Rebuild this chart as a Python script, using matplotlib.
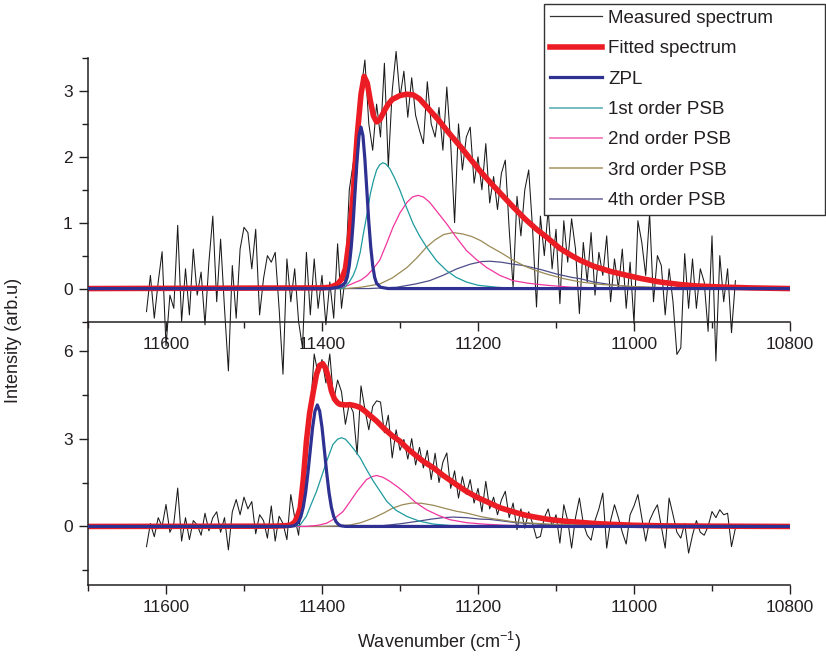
import numpy as np
import matplotlib
matplotlib.use("Agg")
import matplotlib.pyplot as plt
from matplotlib.ticker import MultipleLocator
from matplotlib.lines import Line2D

plt.rcParams['font.family'] = ['Liberation Sans', 'DejaVu Sans']
plt.rcParams['mathtext.fontset'] = 'custom'
plt.rcParams['mathtext.rm'] = 'Liberation Sans'

# ---------------- data ----------------
series_labels = ["Measured spectrum", "Fitted spectrum", "ZPL", "1st order PSB",
                 "2nd order PSB", "3rd order PSB", "4th order PSB"]

# measured spectra: wavenumber grid 11625 -> 10870, step 5 cm-1
measured_x = np.arange(11625, 10865, -5)
measured_top = [
    -0.35, 0.2, -0.45, 0.1, 0.56, -0.87, -0.1, -0.3, 0.96, -0.5,
    0.3, -0.4, 0.6, -0.1, 0.25, -0.55, 0.4, 1.1, -0.2, 0.75,
    -0.3, -1.25, 0.35, -0.45, 0.6, 0.93, 0.85, 0.3, 0.9, -0.4,
    0.15, 0.5, 0.4, 0.55, -0.3, -1.3, 0.45, -0.2, 0.3, -0.5,
    -0.9, 0.55, -0.4, 0.45, -0.3, 0.2, -0.55, 0.1, -0.45, 0.68,
    -0.3, 0.2, 1.5, 1.9, 2.2, 3.0, 3.47, 2.5, 2.1, 2.8,
    2.3, 3.42, 1.85, 3.0, 3.6, 2.9, 3.3, 2.6, 3.2, 2.63,
    2.4, 2.2, 3.14, 2.5, 2.3, 2.75, 2.1, 3.06, 2.2, 1.0,
    2.5, 1.8, 2.3, 2.45, 1.6, 2.0, 1.5, 2.2, 1.3, 1.7,
    1.2, 1.75, 1.95, 0.9, 0.02, 1.4, 0.8, 1.5, 1.8, 0.9,
    -0.28, 1.1, 0.5, 1.2, 0.3, 0.9, -0.23, 1.03, 0.4, 1.06,
    0.6, -0.38, 0.7, 0.1, 0.85, -0.1, 0.55, 0.2, 0.8, -0.2,
    0.45, 0.0, 0.6, -0.3, 0.4, -0.53, 1.03, 0.7, 0.2, 1.14,
    -0.2, 0.5, 0.35, -0.4, 0.3, -0.2, -1.0, -0.9, 0.53, -0.3,
    0.45, -0.3, 0.3, 0.1, -0.65, 0.8, -1.1, 0.5, -0.2, 0.3,
    -0.67, 0.12,
]
measured_bottom = [
    -0.69, 0.1, -0.35, 0.3, 0.0, 0.75, -0.2, 0.1, 1.31, -0.5,
    0.3, -0.45, 0.2, 0.05, -0.3, 0.45, -0.15, 0.3, 0.5, -0.2,
    0.3, -0.8, 0.5, 0.92, 0.4, 1.0, 0.6, 0.85, -0.25, 0.4,
    0.2, -0.4, 0.7, -0.5, 0.35, 0.1, -0.45, 1.09, 0.3, -0.3,
    1.3, 2.4, 3.9, 5.89, 5.2, 5.7, 4.9, 5.89, 4.3, 5.0,
    4.6, 3.49, 4.2, 3.9, 2.46, 4.8, 4.0, 3.3, 4.1, 4.29,
    4.25, 3.2, 3.8, 2.34, 3.3, 2.6, 2.97, 2.3, 3.0, 2.1,
    2.7, 2.0, 2.6, 1.6, 2.5, 1.5, 2.2, 2.51, 1.3, 1.9,
    0.97, 1.7, 1.1, 1.6, 0.8, 1.3, 0.5, 1.54, 0.6, 1.0,
    0.4, 0.9, 1.2, 0.3, 0.8, -0.11, 0.6, -0.06, 0.5, 0.1,
    -0.4, -0.34, 0.3, 0.6, 0.0, 0.4, -0.57, 0.74, 0.2, -0.74,
    0.3, 0.97, 0.1, -0.3, -0.47, 0.2, 0.6, 1.14, -0.74, 0.2,
    0.74, 0.3, -0.2, -0.6, 0.4, 0.7, 1.09, 0.3, -0.5, 0.2,
    0.5, 0.74, 0.0, -0.74, 0.97, 0.4, -0.2, -0.4, 0.1, -0.91,
    -0.3, 0.2, -0.2, -0.3, 0.0, 0.51, 0.3, 0.57, 0.4, 0.45,
    -0.69, -0.06,
]

# fitted curves (wavenumber, intensity)
fit_top = [(11700, 0.0), (11400, 0.01), (11390, 0.02), (11385, 0.04), (11380, 0.07),
           (11375, 0.14), (11370, 0.3), (11365, 0.75), (11360, 1.45), (11355, 2.3),
           (11350, 2.95), (11346, 3.22), (11342, 3.12), (11338, 2.85), (11334, 2.62),
           (11330, 2.53), (11326, 2.56), (11320, 2.7), (11315, 2.8), (11310, 2.87),
           (11300, 2.93), (11292, 2.95), (11283, 2.94), (11275, 2.88), (11262, 2.71),
           (11250, 2.55), (11240, 2.40), (11230, 2.26), (11220, 2.12), (11210, 1.97),
           (11197, 1.78), (11185, 1.62), (11170, 1.43), (11155, 1.24), (11140, 1.06),
           (11125, 0.90), (11112, 0.78), (11095, 0.61), (11080, 0.50), (11069, 0.43),
           (11052, 0.34), (11030, 0.26), (11009, 0.20), (10990, 0.15), (10967, 0.10),
           (10940, 0.06), (10920, 0.04), (10900, 0.03), (10880, 0.02), (10850, 0.01),
           (10800, 0.0)]
zpl_top = [(11700, 0), (11390, 0.0), (11385, 0.01), (11380, 0.02), (11375, 0.04),
           (11370, 0.09), (11367.5, 0.18), (11365, 0.35), (11362.5, 0.63), (11360, 1.01),
           (11357.5, 1.49), (11355, 1.96), (11352.5, 2.32), (11350, 2.45), (11347.5, 2.32),
           (11345, 1.96), (11342.5, 1.49), (11340, 1.01), (11337.5, 0.63), (11335, 0.35),
           (11332.5, 0.17), (11330, 0.08), (11325, 0.02), (11320, 0.01), (11315, 0.0),
           (10800, 0)]
psb1_top = [(11700, 0), (11375, 0.0), (11371, 0.02), (11365, 0.1), (11360, 0.2),
            (11356, 0.32), (11351, 0.55), (11347, 0.83), (11342, 1.15), (11338, 1.44),
            (11334, 1.64), (11330, 1.80), (11326, 1.88), (11322, 1.91), (11318, 1.89),
            (11313, 1.82), (11307, 1.68), (11300, 1.49), (11292, 1.24), (11283, 0.98),
            (11275, 0.8), (11266, 0.63), (11253, 0.42), (11240, 0.27), (11228, 0.17),
            (11215, 0.10), (11200, 0.05), (11176, 0.02), (11150, 0.0), (10800, 0)]
psb2_top = [(11700, 0), (11380, 0.0), (11370, 0.03), (11360, 0.08), (11350, 0.13),
            (11343, 0.19), (11335, 0.29), (11326, 0.43), (11318, 0.66), (11309, 0.93),
            (11300, 1.15), (11291, 1.31), (11284, 1.39), (11277, 1.415), (11270, 1.39),
            (11262, 1.31), (11252, 1.16), (11240, 0.98), (11228, 0.78), (11215, 0.58),
            (11202, 0.44), (11189, 0.32), (11172, 0.2), (11155, 0.12), (11135, 0.08),
            (11112, 0.05), (11080, 0.02), (11040, 0.01), (11000, 0.0), (10800, 0)]
psb3_top = [(11700, 0), (11370, 0.0), (11350, 0.02), (11326, 0.07), (11310, 0.16),
            (11291, 0.32), (11278, 0.47), (11266, 0.63), (11255, 0.74), (11244, 0.82),
            (11232, 0.85), (11220, 0.83), (11208, 0.79), (11197, 0.73), (11185, 0.64),
            (11170, 0.54), (11155, 0.43), (11140, 0.34), (11125, 0.27), (11112, 0.22),
            (11090, 0.15), (11069, 0.10), (11040, 0.06), (11000, 0.03), (10950, 0.01),
            (10900, 0.0), (10800, 0)]
psb4_top = [(11700, 0), (11340, 0.0), (11304, 0.02), (11280, 0.07), (11262, 0.12),
            (11245, 0.2), (11227, 0.30), (11210, 0.37), (11195, 0.41), (11185, 0.415),
            (11170, 0.40), (11155, 0.37), (11142, 0.35), (11120, 0.29), (11099, 0.22),
            (11080, 0.17), (11069, 0.15), (11052, 0.1), (11030, 0.06), (11009, 0.03),
            (10980, 0.015), (10950, 0.005), (10900, 0.0), (10800, 0)]

fit_bottom = [(11700, 0.0), (11460, 0.01), (11445, 0.03), (11440, 0.05), (11435, 0.15),
              (11431, 0.38), (11428, 0.63), (11424, 1.6), (11420, 2.9), (11416, 3.85),
              (11411, 4.63), (11407, 5.2), (11403, 5.5), (11399, 5.56), (11395, 5.38),
              (11391, 5.0), (11388, 4.63), (11384, 4.35), (11380, 4.22), (11377, 4.17),
              (11370, 4.15), (11364, 4.16), (11357, 4.12), (11351, 4.06), (11345, 3.94),
              (11338, 3.78), (11330, 3.6), (11320, 3.33), (11310, 3.1), (11300, 2.91),
              (11290, 2.65), (11280, 2.43), (11270, 2.22), (11257, 2.0), (11245, 1.75),
              (11230, 1.47), (11215, 1.2), (11200, 0.98), (11185, 0.8), (11172, 0.64),
              (11155, 0.5), (11140, 0.39), (11129, 0.33), (11112, 0.25), (11100, 0.21),
              (11085, 0.17), (11069, 0.14), (11050, 0.1), (11027, 0.07), (11000, 0.04),
              (10960, 0.02), (10900, 0.01), (10800, 0.0)]
zpl_bottom = [(11700, 0), (11445, 0), (11441, 0.004), (11436, 0.025), (11433, 0.07),
              (11430, 0.16), (11427, 0.34), (11424, 0.66), (11421, 1.16), (11418, 1.84),
              (11415, 2.62), (11412, 3.39), (11409, 3.94), (11406, 4.15), (11403, 3.94),
              (11400, 3.39), (11397, 2.62), (11394, 1.84), (11391, 1.16), (11388, 0.66),
              (11385, 0.34), (11382, 0.16), (11379, 0.07), (11376, 0.025), (11371, 0.004),
              (11367, 0), (10800, 0)]
psb1_bottom = [(11700, 0), (11435, 0.0), (11428, 0.05), (11420, 0.35), (11414, 0.75),
               (11407, 1.2), (11400, 1.75), (11394, 2.23), (11386, 2.8), (11380, 2.98),
               (11375, 3.03), (11370, 2.98), (11364, 2.8), (11358, 2.6), (11351, 2.34),
               (11343, 1.95), (11334, 1.54), (11325, 1.18), (11317, 0.86), (11305, 0.55),
               (11291, 0.34), (11275, 0.18), (11257, 0.08), (11235, 0.03), (11210, 0.01),
               (11180, 0.0), (10800, 0)]
psb2_bottom = [(11700, 0), (11420, 0.0), (11405, 0.04), (11394, 0.11), (11385, 0.25),
               (11373, 0.51), (11364, 0.85), (11355, 1.2), (11343, 1.6), (11336, 1.7),
               (11330, 1.74), (11322, 1.68), (11313, 1.54), (11302, 1.33), (11291, 1.09),
               (11280, 0.82), (11266, 0.57), (11250, 0.37), (11236, 0.23), (11215, 0.13),
               (11193, 0.08), (11165, 0.04), (11130, 0.02), (11080, 0.0), (10800, 0)]
psb3_bottom = [(11700, 0), (11400, 0.0), (11380, 0.02), (11364, 0.05), (11350, 0.13),
               (11334, 0.29), (11320, 0.47), (11309, 0.63), (11297, 0.74), (11285, 0.8),
               (11272, 0.79), (11257, 0.72), (11240, 0.6), (11228, 0.52), (11215, 0.46),
               (11197, 0.34), (11185, 0.28), (11172, 0.23), (11155, 0.16), (11129, 0.11),
               (11100, 0.07), (11070, 0.04), (11030, 0.02), (10980, 0.01), (10930, 0.0),
               (10800, 0)]
psb4_bottom = [(11700, 0), (11360, 0.0), (11321, 0.03), (11300, 0.09), (11279, 0.17),
               (11260, 0.25), (11245, 0.3), (11232, 0.32), (11215, 0.3), (11197, 0.25),
               (11185, 0.24), (11172, 0.2), (11155, 0.14), (11140, 0.11), (11129, 0.09),
               (11112, 0.06), (11090, 0.04), (11060, 0.02), (11020, 0.01), (10980, 0.0),
               (10800, 0)]

x_ticks = [11600, 11400, 11200, 11000, 10800]
y_ticks_top = [0, 1, 2, 3]
y_ticks_bottom = [0, 3, 6]

# ---------------- style ----------------
C_MEAS = '#1a1a1a'
C_FIT = '#ec1c24'
C_ZPL = '#2e3192'
C_P1 = '#1f9a9e'
C_P2 = '#f2359f'
C_P3 = '#9a8a55'
C_P4 = '#4d4d8a'
TXT = '#231f20'

W, H = 826, 656
fig = plt.figure(figsize=(W / 100, H / 100), dpi=100)
left = 88 / W
width = 702 / W
ax_top = fig.add_axes([left, 1 - 321.5 / H, width, 263.5 / H])
ax_bot = fig.add_axes([left, 1 - 585 / H, width, 263.5 / H])


def draw_panel(ax, meas, fit, zpl, p1, p2, p3, p4):
    ax.plot(measured_x, meas, color=C_MEAS, lw=0.75, zorder=1, clip_on=False)
    ax.plot(*zip(*fit), color=C_FIT, lw=4.0, zorder=2, solid_capstyle='round')
    for comp, col in ((p4, C_P4), (p3, C_P3), (p2, C_P2), (p1, C_P1)):
        ax.plot(*zip(*comp), color=col, lw=0.9, zorder=3)
    ax.plot(*zip(*zpl), color=C_ZPL, lw=2.3, zorder=4)
    ax.set_xlim(11700, 10800)
    ax.set_xticks(x_ticks)
    ax.xaxis.set_minor_locator(MultipleLocator(100))
    for s in ('top', 'right'):
        ax.spines[s].set_visible(False)
    for s in ('left', 'bottom'):
        ax.spines[s].set_linewidth(1.1)
        ax.spines[s].set_color('#231f20')
    ax.tick_params(which='major', direction='out', length=6.5, width=1.0,
                   labelsize=12.5, pad=4.5, colors='#231f20', labelcolor=TXT)
    ax.tick_params(which='minor', direction='out', length=4, width=1.0, colors='#231f20')
    ax.patch.set_alpha(0)


draw_panel(ax_top, measured_top, fit_top, zpl_top, psb1_top, psb2_top, psb3_top, psb4_top)
draw_panel(ax_bot, measured_bottom, fit_bottom, zpl_bottom, psb1_bottom, psb2_bottom,
           psb3_bottom, psb4_bottom)

ax_top.set_ylim(-0.5, 3.5)
ax_top.set_yticks(y_ticks_top)
ax_top.yaxis.set_minor_locator(MultipleLocator(0.5))
ax_bot.set_ylim(-2, 7)
ax_bot.set_yticks(y_ticks_bottom)
ax_bot.yaxis.set_minor_locator(MultipleLocator(1.5))
ax_top.set_zorder(3)

ax_bot.set_xlabel(r"Wavenumber (cm$^{\mathregular{-1}}$)", fontsize=13, color=TXT)
ax_bot.xaxis.set_label_coords(0.5, -0.17)
fig.text(14 / W, 1 - 340 / H, "Intensity (arb.u)", rotation=90, ha='center', va='center',
         fontsize=13, color=TXT)

handles = [
    Line2D([], [], color='#333333', lw=0.9),
    Line2D([], [], color=C_FIT, lw=4.0),
    Line2D([], [], color=C_ZPL, lw=2.3),
    Line2D([], [], color='#6ab6bd', lw=1.3),
    Line2D([], [], color='#f07bbd', lw=1.3),
    Line2D([], [], color='#b3a57a', lw=1.3),
    Line2D([], [], color='#7c7ca8', lw=1.3),
]
leg = fig.legend(handles, series_labels, loc='upper left',
                 bbox_to_anchor=(544 / W, 1 - 212 / H, 281 / W, 208 / H),
                 mode='expand', borderaxespad=0, fontsize=13.5, handlelength=2.8,
                 handletextpad=0.32, labelspacing=0.71, borderpad=0.3,
                 frameon=True, fancybox=False, framealpha=1, edgecolor='#333333')
leg.get_frame().set_linewidth(1.0)
for t in leg.get_texts():
    t.set_color(TXT)
leg.set_zorder(10)

fig.savefig("out.png", dpi=100)
